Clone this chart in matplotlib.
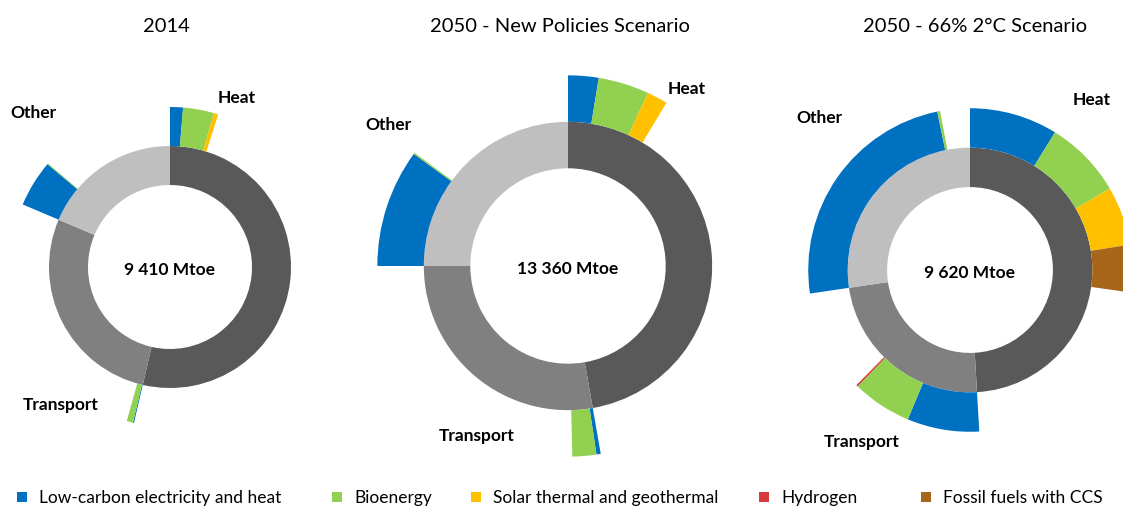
import matplotlib
matplotlib.use('Agg')
import matplotlib.pyplot as plt
from matplotlib.patches import Rectangle
import numpy as np

plt.rcParams['font.family'] = ['Lato', 'DejaVu Sans']

# chart values (Mtoe)
titles = ['2014', '2050 - New Policies Scenario', '2050 - 66% 2°C Scenario']
totals = [9410, 13360, 9620]
sectors = ['Heat', 'Transport', 'Other']

heat = [5045, 6313, 4722]
transport = [2614, 3707, 2269]
other = [1751, 3340, 2629]

# low-carbon sources inside each sector, per chart
# order: low-carbon elec, bioenergy, solar/geo, hydrogen, fossil CCS
heat_lc = [[123, 293, 42, 0, 0],
           [345, 575, 234, 0, 0],
           [847, 751, 566, 0, 454]]
transport_lc = [[10, 60, 0, 0, 0],
                [48, 271, 0, 0, 0],
                [692, 572, 0, 16, 0]]
other_lc = [[444, 8, 0, 0, 0],
            [1336, 15, 0, 0, 0],
            [2317, 27, 0, 0, 0]]

sources = ['Low-carbon electricity and heat', 'Bioenergy',
           'Solar thermal and geothermal', 'Hydrogen', 'Fossil fuels with CCS']
src_colors = ['#0070c0', '#92d050', '#ffc000', '#d63a3a', '#a8661a']
sector_colors = ['#595959', '#808080', '#bfbfbf']

# layout (pixels, y up)
W, H = 1123, 508
centers = [(170, 241), (568, 242), (970, 238)]
title_x = [166, 560, 975]
label_pos = [
    {'Heat': (237, 410), 'Other': (33, 395), 'Transport': (61, 103)},
    {'Heat': (687, 419), 'Other': (388, 383), 'Transport': (477, 72)},
    {'Heat': (1092, 408), 'Other': (819, 390), 'Transport': (862, 66)},
]

fig = plt.figure(figsize=(W / 100, H / 100), dpi=100)
ax = fig.add_axes([0, 0, 1, 1])

for i in range(3):
    s = np.sqrt(totals[i] / totals[0])   # ring area follows the total
    r_in, r_out = 121 * s, 160 * s
    width = 39 * s
    cx, cy = centers[i]

    vals = [heat[i], transport[i], other[i]]
    ax.pie(vals, colors=sector_colors, radius=r_in, center=(cx, cy),
           startangle=90, counterclock=False,
           wedgeprops=dict(width=width, linewidth=0))

    # outer ring: sources then an invisible remainder per sector
    outer_vals, outer_cols = [], []
    for sec_val, lc in zip(vals, [heat_lc[i], transport_lc[i], other_lc[i]]):
        for v, c in zip(lc, src_colors):
            if v > 0:
                outer_vals.append(v)
                outer_cols.append(c)
        outer_vals.append(sec_val - sum(lc))
        outer_cols.append('none')
    ax.pie(outer_vals, colors=outer_cols, radius=r_out, center=(cx, cy),
           startangle=90, counterclock=False,
           wedgeprops=dict(width=width, linewidth=0))

    ax.text(cx, cy - 3, f'{totals[i]:,} Mtoe'.replace(',', ' '),
            ha='center', va='center', fontsize=12.5, fontweight='bold')
    ax.text(title_x[i], H - 27, titles[i], ha='center', va='center', fontsize=14.5)
    for name in sectors:
        x, y = label_pos[i][name]
        ax.text(x, y, name, ha='center', va='center',
                fontsize=12.5, fontweight='bold')

# legend
leg_sq = [22, 337, 476, 764, 926]
for x, lab, c in zip(leg_sq, sources, src_colors):
    ax.add_patch(Rectangle((x - 5, H - 497 - 5), 10, 10, color=c, lw=0))
    ax.text(x + 17, H - 498, lab, ha='left', va='center', fontsize=12.5)

ax.set_xlim(0, W)
ax.set_ylim(0, H)
ax.set_aspect('equal')
ax.axis('off')

fig.savefig('out.png', dpi=100)
